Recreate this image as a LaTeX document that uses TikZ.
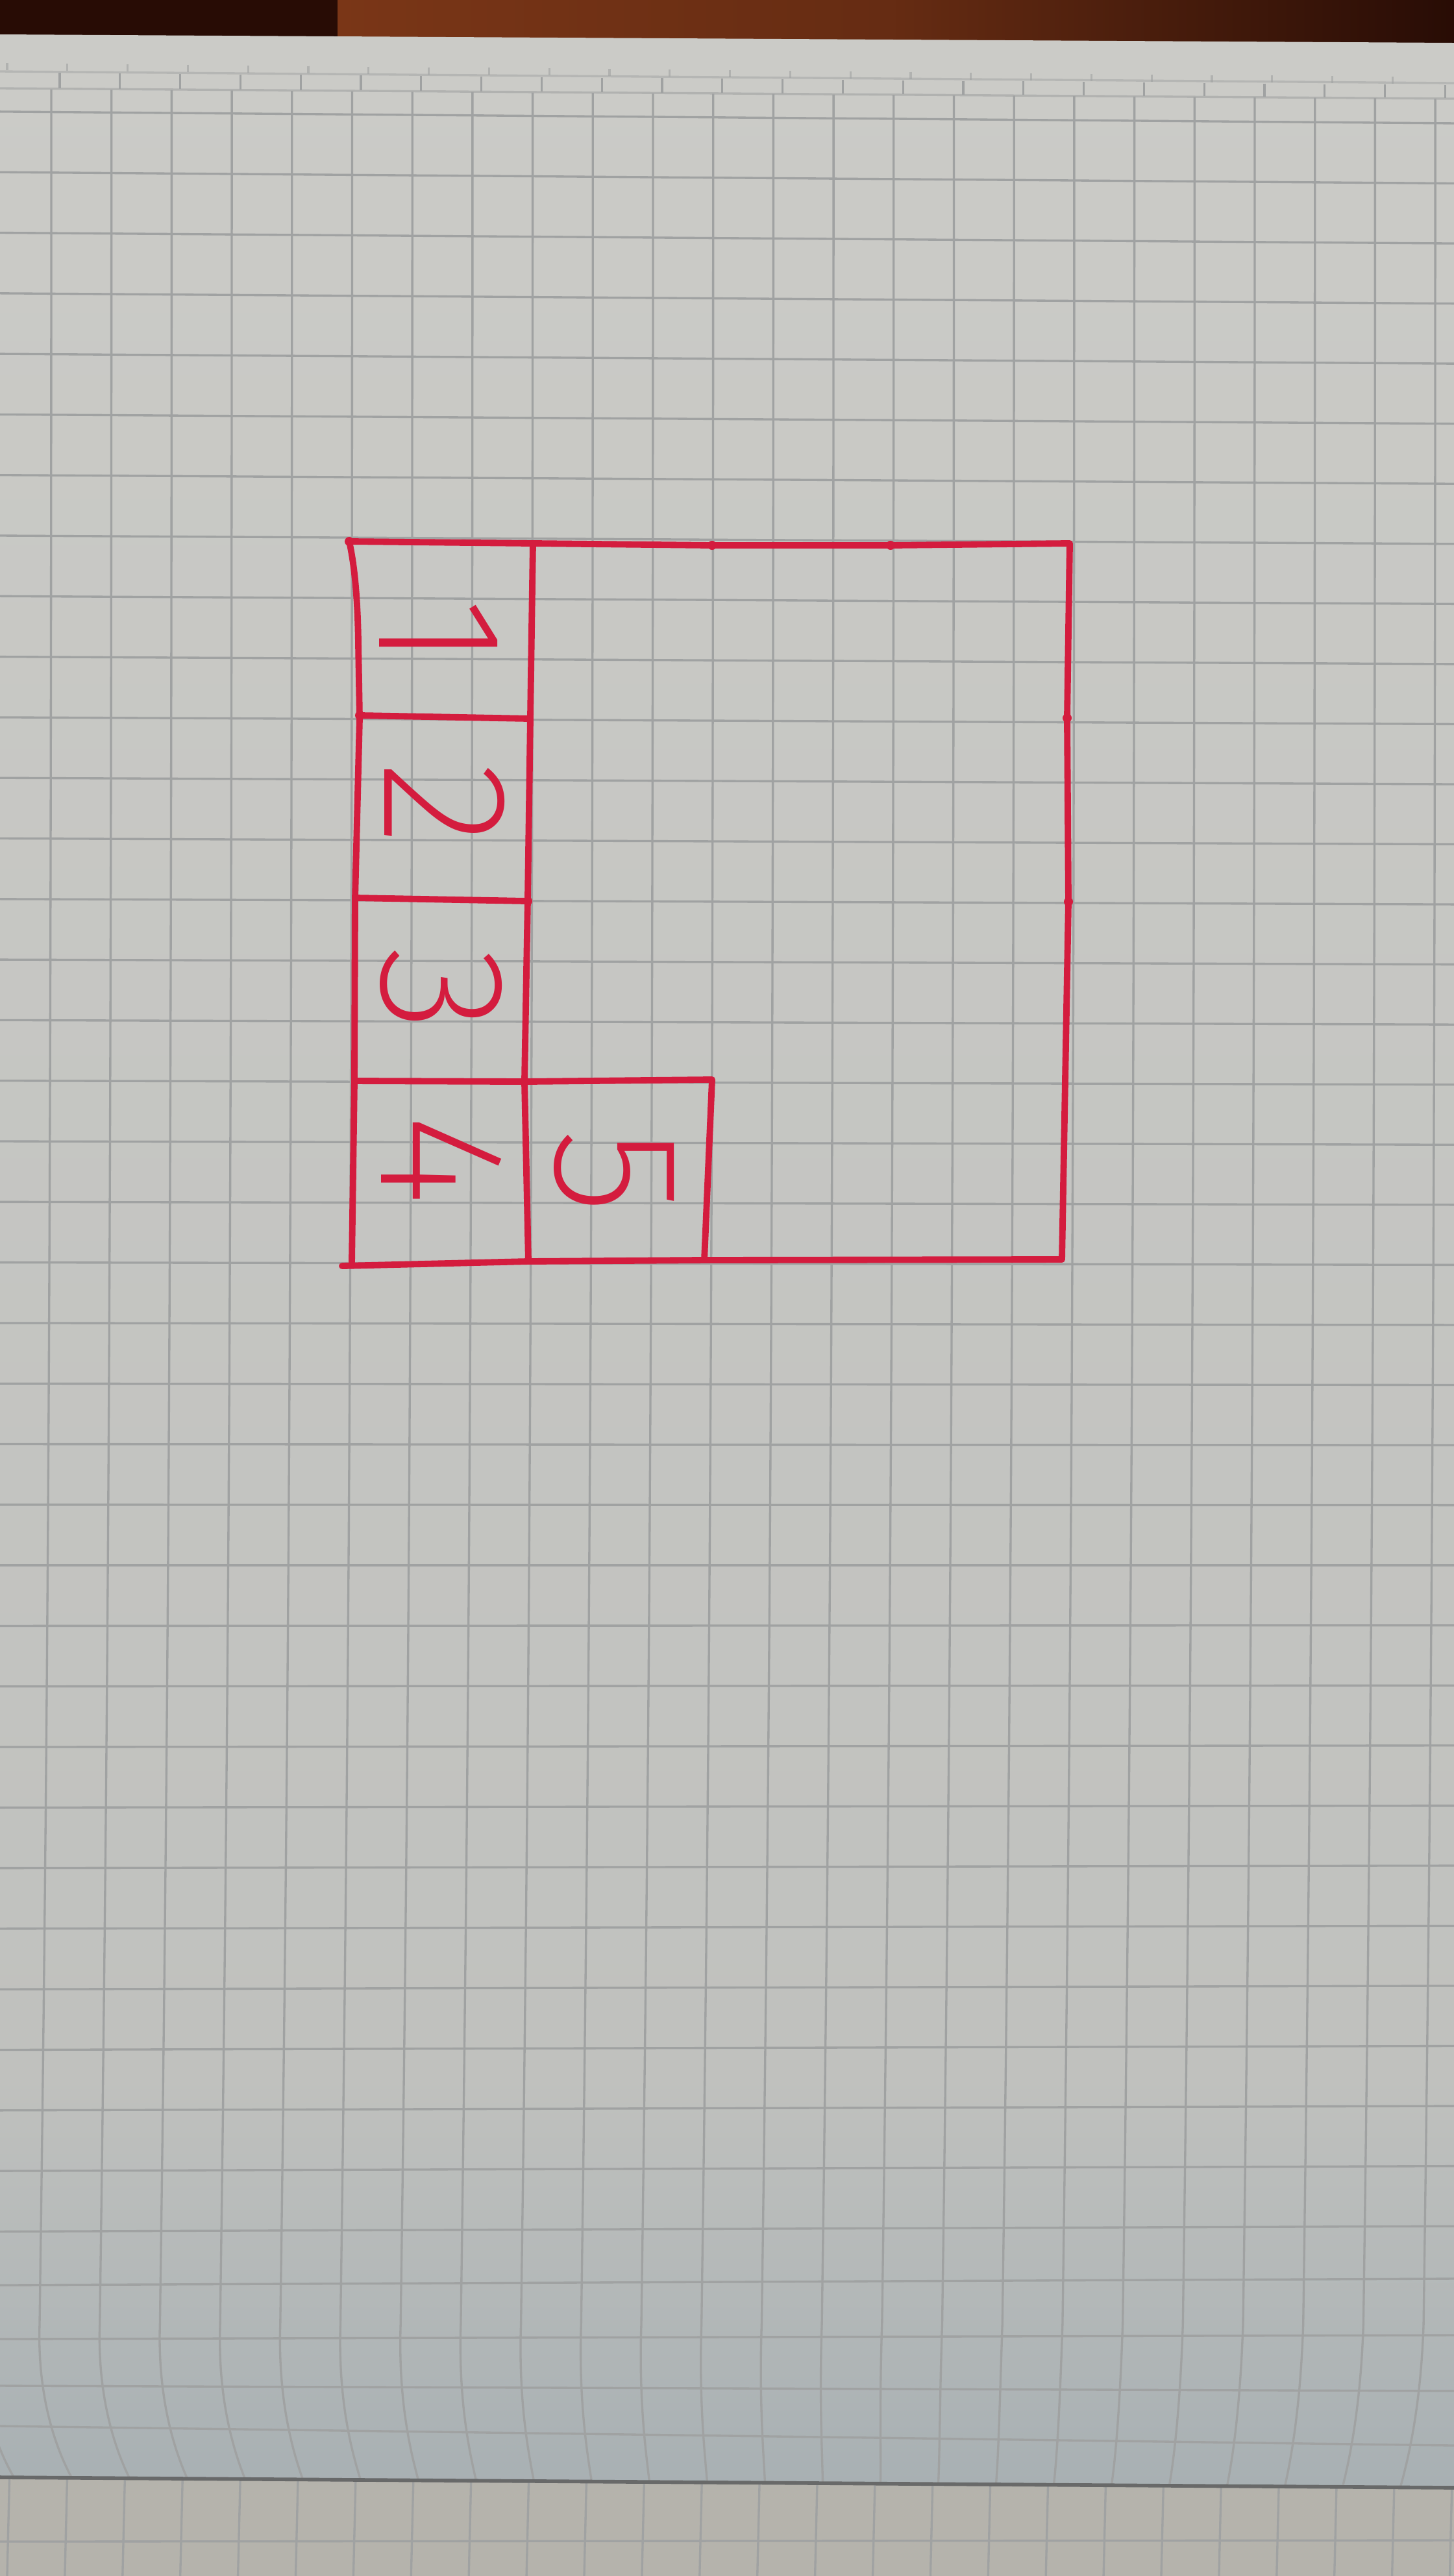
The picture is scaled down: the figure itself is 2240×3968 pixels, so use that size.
\documentclass[tikz,border=0pt]{standalone}
\usepackage{fontspec}
\usepackage{xcolor}
\usepackage{tikz}
\IfFontExistsTF{Fira Sans ExtraLight}
  {\newfontfamily\handfont{Fira Sans ExtraLight}}
  {\IfFontExistsTF{Fira Sans Light}
    {\newfontfamily\handfont{Fira Sans Light}}
    {\IfFontExistsTF{Lato Light}
      {\newfontfamily\handfont{Lato Light}}
      {\IfFontExistsTF{Open Sans Light}
        {\newfontfamily\handfont{Open Sans Light}}
        {\newfontfamily\handfont{Fira Sans}}}}}
\definecolor{penred}{RGB}{212,28,62}
\definecolor{rulegrey}{RGB}{160,162,162}
\definecolor{paperhi}{RGB}{203,203,199}
\definecolor{papermid}{RGB}{192,193,190}
\definecolor{paperlo}{RGB}{168,176,179}
\definecolor{underpage}{RGB}{181,179,172}
\definecolor{woodlight}{RGB}{122,54,23}
\definecolor{wooddark}{RGB}{40,12,5}
\tikzset{
  ink/.style={draw=penred, line width=2.8pt, line cap=round, line join=round}, % felt pen
  ruling/.style={draw=rulegrey, line width=0.95pt},
  digit/.style={text=penred, inner sep=0pt, rotate=-90,
    font=\handfont\fontsize{78pt}{78pt}\selectfont}
}

\begin{document}
\begin{tikzpicture}[x=0.01cm, y=-0.01cm]
  \useasboundingbox (0,0) rectangle (2240,3968);
  \clip (0,0) rectangle (2240,3968);

  % Table
  \fill[wooddark] (0,0) rectangle (2240,80);
  \shade[left color=woodlight, right color=wooddark, middle color=woodlight!75!wooddark]
    (520,0) rectangle (2240,80);

  % Sheet underneath
  \fill[underpage] (0,3790) rectangle (2240,3968);
  \foreach \k in {0,...,25}
    \draw[ruling] ({15+88.9*\k},3800) -- ({11+88.9*\k},3968);
  \draw[ruling] (0,3915) -- (2240,3913);

  % Sheet on top
  \shade[top color=paperhi, bottom color=papermid]
    (0,53) -- (2240,66) -- (2240,3200) -- (0,3200) -- cycle;
  \shade[top color=papermid, bottom color=paperlo]
    (0,3199) -- (2240,3199) -- (2240,3832) -- (0,3816) -- cycle;

  % Edges of the stacked pages
  \draw[ruling, draw opacity=0.5] (0,110) -- (2240,128);
  \draw[ruling, draw opacity=0.6] (0,136) -- (2240,152);
  \foreach \k in {0,...,23} {
    \draw[ruling, draw opacity=0.6] ({11+92.8*\k},{97+0.01*92.8*\k}) -- ({11+92.8*\k},{108+0.01*92.8*\k});
    \draw[ruling] ({92+92.8*\k},{112+0.009*92.8*\k}) -- ({92+92.8*\k},{136+0.007*92.8*\k});
  }

  % Grid
  \foreach \j in {-7,...,28}
    \draw[ruling] (0,{825+93.3*\j}) -- (2240,{825+93.3*\j+2240*(0.0057-0.00033*\j)});
  \foreach \l/\r in {3520/3510, 3603/3597, 3675/3683, 3737/3767}
    \draw[ruling] (0,\l) -- (2240,\r);
  \foreach \k in {-1,...,23} {
    \pgfmathsetmacro\xa{79+92.7*\k}
    \pgfmathsetmacro\xb{\xa-18}
    \pgfmathsetmacro\xc{\xb+0.04*(1300-\xb)}
    \draw[ruling] (\xa,{137+0.0067*\xa}) .. controls (\xa,1800) and ({\xa-4},2600) .. (\xb,3580)
      .. controls ({\xb-4},3700) and ({\xc-0.4*(\xc-\xb)},3780) .. (\xc,{3816+0.007*\xc});
  }
  \draw[line width=1.6pt, rulegrey!65!black] (0,3816) -- (2240,3832);

  % Outline
  \draw[ink] (538,834) -- (821,837) -- (1097,840) -- (1372,840) -- (1648,837)
    -- (1644,1106) -- (1646,1389) -- (1641,1665) -- (1636,1940)
    -- (1085,1941) -- (814,1943) -- (527,1950);
  \draw[ink] (538,834) .. controls (546,870) and (551,920) .. (552,990)
    -- (554,1106) -- (547,1385) -- (546,1665) -- (542,1944);

  % Column and rows
  \draw[ink] (821,837) -- (817,1106) -- (813,1385) -- (808,1666) -- (814,1943);
  \draw[ink] (554,1102) -- (817,1107);
  \draw[ink] (547,1383) -- (813,1388);
  \draw[ink] (546,1665) -- (808,1666);

  % Square five
  \draw[ink] (808,1666) -- (1097,1663) -- (1085,1941);

  \foreach \p in {(538,834),(1097,840),(1372,840),(554,1102),(813,1388),(808,1666),(1644,1106),(1646,1389)}
    \fill[penred] \p circle (7);

  % Numbers
  \node[digit] (one) at (676,975) {1};
  \node[digit] (two) at (685,1238) {2};
  \node[digit] (three) at (680,1525) {3};
  \node[digit] (four) at (680,1787) {4};
  \node[digit] (five) at (946,1805) {5};
\end{tikzpicture}
\end{document}
